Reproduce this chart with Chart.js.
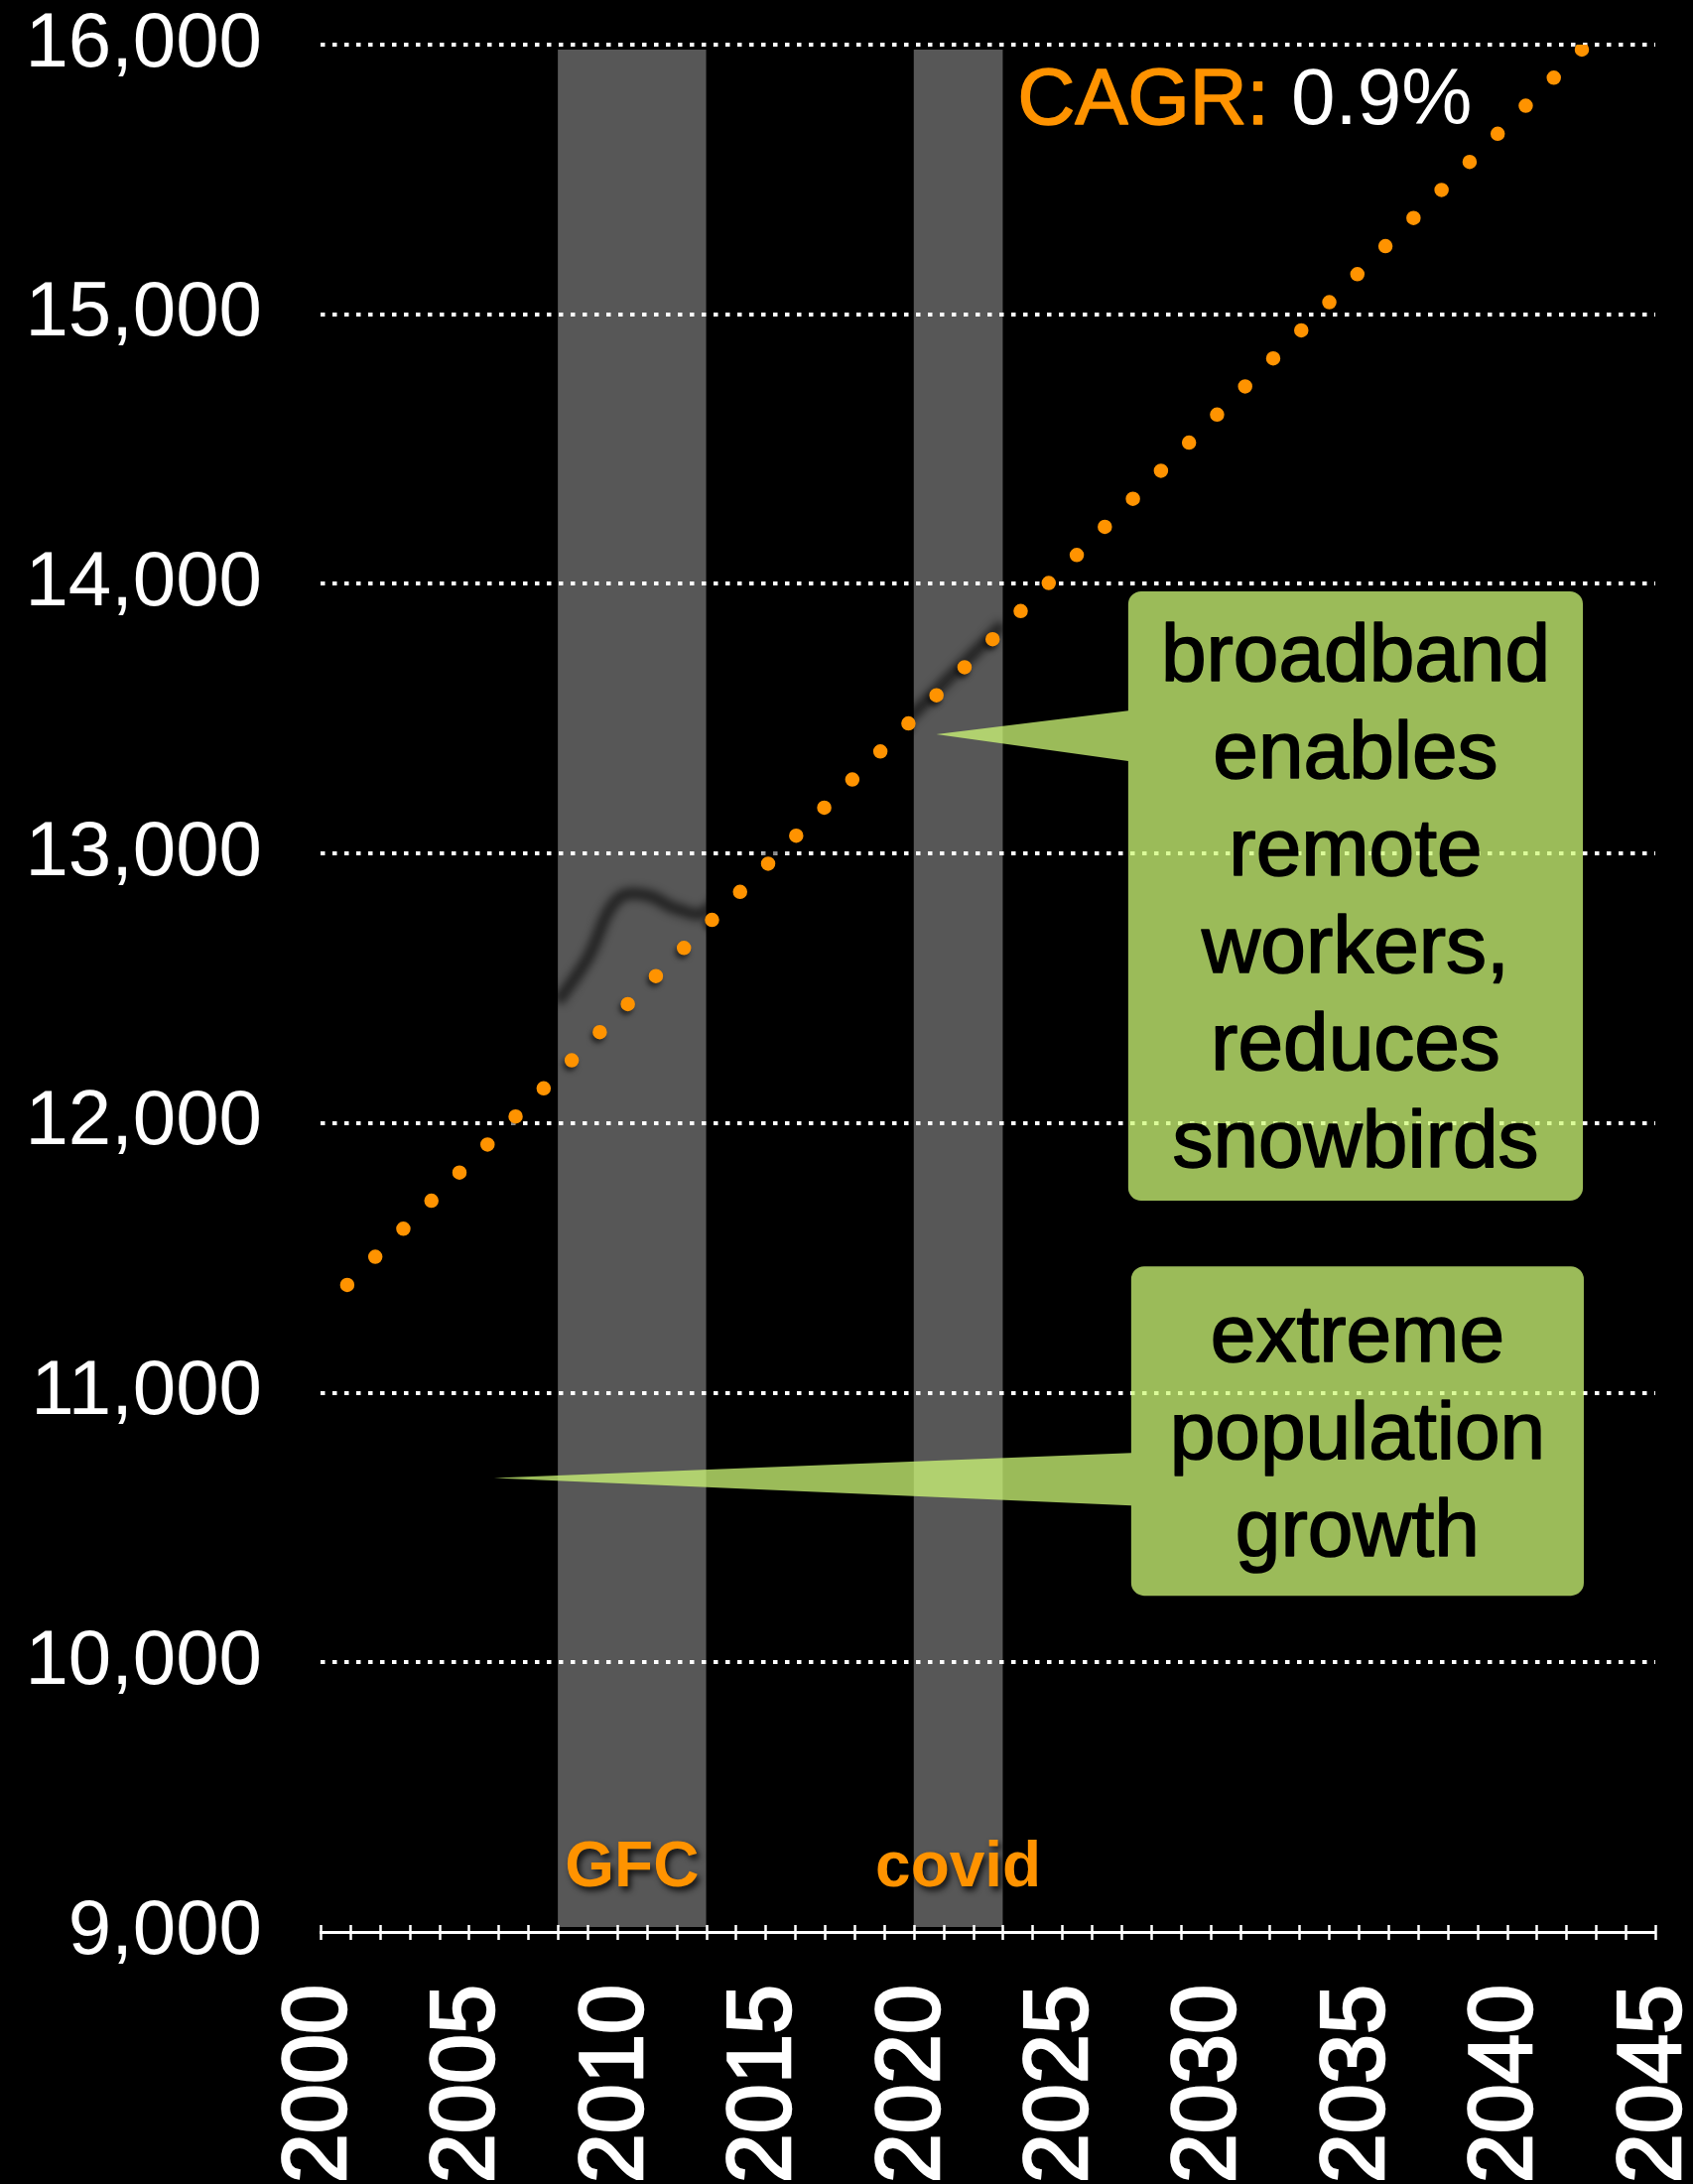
<!DOCTYPE html>
<html>
<head>
<meta charset="utf-8">
<title>Population trend</title>
<script src="https://cdn.jsdelivr.net/npm/chart.js@4.4.1/dist/chart.umd.min.js"></script>
<style>
    html, body { margin: 0; padding: 0; background: #000; }
    #wrap { width: 1706px; height: 2201px; }
</style>
</head>
<body>
<div id="wrap"><canvas id="chart" width="1706" height="2201"></canvas></div>
<script>
    "use strict";

    // Historical population (only shows where it crosses the shaded periods)
    var histYears = [2008, 2009, 2010, 2011, 2012, 2013, 2020, 2021, 2022, 2023];
    var histValues = [12450, 12610, 12830, 12845, 12795, 12787, 13520, 13630, 13740, 13850];

    // Dotted CAGR trend, start and end
    var trendYears = [2000.9, 2042.6];
    var trendValues = [11400, 15990];

    // Shaded periods
    var bandNames = ["GFC", "covid"];
    var bandStart = [2008, 2020];
    var bandEnd = [2013, 2023];

    // Axes
    var yTickValues = [9000, 10000, 11000, 12000, 13000, 14000, 15000, 16000];
    var xLabelYears = [2000, 2005, 2010, 2015, 2020, 2025, 2030, 2035, 2040, 2045];

    var cagrLabel = "CAGR:";
    var cagrValue = "0.9%";

    var note1Lines = ["broadband", "enables", "remote", "workers,", "reduces", "snowbirds"];
    var note2Lines = ["extreme", "population", "growth"];

    var FONT = '"Liberation Sans", Arial, Helvetica, sans-serif';
    var ORANGE = "#ff9300";

    // Shaded bands under the grid
    var bandsPlugin = {
        id: "bands",
        beforeDraw: function (chart) {
            var ctx = chart.ctx, xs = chart.scales.x, area = chart.chartArea;
            ctx.save();
            ctx.fillStyle = "#575757";
            for (var i = 0; i < bandStart.length; i++) {
                var x0 = xs.getPixelForValue(bandStart[i]);
                var x1 = xs.getPixelForValue(bandEnd[i]);
                ctx.fillRect(x0, area.top + 5, x1 - x0, area.bottom - area.top - 10);
            }
            ctx.restore();
        }
    };

    // Drop shadows / blur for datasets that ask for one
    var shadowPlugin = {
        id: "shadows",
        beforeDatasetDraw: function (chart, args) {
            var ds = chart.data.datasets[args.index];
            if (!ds.shadow && !ds.blur) return;
            var ctx = chart.ctx;
            ctx.save();
            if (ds.blur) ctx.filter = "blur(" + ds.blur + "px)";
            if (ds.shadow) {
                ctx.shadowColor = ds.shadow.color;
                ctx.shadowBlur = ds.shadow.blur;
                ctx.shadowOffsetX = ds.shadow.dx;
                ctx.shadowOffsetY = ds.shadow.dy;
            }
        },
        afterDatasetDraw: function (chart, args) {
            var ds = chart.data.datasets[args.index];
            if (ds.shadow || ds.blur) chart.ctx.restore();
        }
    };

    function boldText(ctx, text, x, y, w) {
        ctx.lineWidth = w;
        ctx.lineJoin = "round";
        ctx.strokeStyle = ctx.fillStyle;
        ctx.strokeText(text, x, y);
        ctx.fillText(text, x, y);
    }

    function drawNote(ctx, xs, ys, lines, box, tip, base) {
        var l = xs.getPixelForValue(box[0]), r = xs.getPixelForValue(box[2]);
        var t = ys.getPixelForValue(box[1]), b = ys.getPixelForValue(box[3]);
        var tx = xs.getPixelForValue(tip[0]), ty = ys.getPixelForValue(tip[1]);
        var b0 = ys.getPixelForValue(base[0]), b1 = ys.getPixelForValue(base[1]);
        var rad = 13;
        ctx.save();
        ctx.beginPath();
        ctx.moveTo(l + rad, t);
        ctx.lineTo(r - rad, t);
        ctx.arcTo(r, t, r, t + rad, rad);
        ctx.lineTo(r, b - rad);
        ctx.arcTo(r, b, r - rad, b, rad);
        ctx.lineTo(l + rad, b);
        ctx.arcTo(l, b, l, b - rad, rad);
        ctx.lineTo(l, b1);
        ctx.lineTo(tx, ty);
        ctx.lineTo(l, b0);
        ctx.lineTo(l, t + rad);
        ctx.arcTo(l, t, l + rad, t, rad);
        ctx.closePath();
        ctx.fillStyle = "rgba(207, 249, 119, 0.75)";
        ctx.fill();

        ctx.fillStyle = "#000";
        ctx.font = "82px " + FONT;
        ctx.textAlign = "center";
        ctx.textBaseline = "alphabetic";
        var cx = (l + r) / 2, cy = (t + b) / 2 + 28;
        for (var i = 0; i < lines.length; i++) {
            boldText(ctx, lines[i], cx, cy + (i - (lines.length - 1) / 2) * 98, 1.6);
        }
        ctx.restore();
    }

    // Ticks across the axis, labels and callouts on top
    var overlayPlugin = {
        id: "overlay",
        afterDatasetsDraw: function (chart) {
            var ctx = chart.ctx, xs = chart.scales.x, ys = chart.scales.y, area = chart.chartArea;

            // year ticks crossing the x axis
            ctx.save();
            ctx.strokeStyle = "#fff";
            ctx.lineWidth = 2.5;
            for (var yr = xs.min; yr <= xs.max; yr++) {
                var px = Math.round(xs.getPixelForValue(yr)) + 0.5;
                ctx.beginPath();
                ctx.moveTo(px, area.bottom - 7);
                ctx.lineTo(px, area.bottom + 8);
                ctx.stroke();
            }
            ctx.restore();

            // band names
            ctx.save();
            ctx.font = "bold 64px " + FONT;
            ctx.fillStyle = ORANGE;
            ctx.textAlign = "center";
            ctx.shadowColor = "rgba(0,0,0,0.8)";
            ctx.shadowBlur = 6;
            ctx.shadowOffsetX = 3;
            ctx.shadowOffsetY = 4;
            for (var i = 0; i < bandNames.length; i++) {
                var cx = xs.getPixelForValue((bandStart[i] + bandEnd[i]) / 2);
                ctx.fillText(bandNames[i], cx, area.bottom - 46);
            }
            ctx.restore();

            // CAGR
            ctx.save();
            ctx.font = "80px " + FONT;
            ctx.textAlign = "left";
            var cxl = xs.getPixelForValue(2023.5), cyl = ys.getPixelForValue(15705);
            ctx.fillStyle = ORANGE;
            boldText(ctx, cagrLabel, cxl, cyl, 1.6);
            var w = ctx.measureText(cagrLabel + " ").width;
            ctx.fillStyle = "#fff";
            ctx.fillText(cagrValue, cxl + w, cyl);
            ctx.restore();

            drawNote(ctx, xs, ys, note1Lines, [2027.23, 13972, 2042.56, 11712], [2020.76, 13442], [13530, 13343]);
            drawNote(ctx, xs, ys, note2Lines, [2027.33, 11469, 2042.59, 10247], [2005.85, 10684], [10777, 10582]);
        }
    };

    var ctx = document.getElementById("chart").getContext("2d");
    var chart = new Chart(ctx, {
        type: "line",
        data: {
            datasets: [{
                label: "CAGR trend",
                data: trendYears.map(function (x, i) { return { x: x, y: trendValues[i] }; }),
                borderColor: ORANGE,
                borderWidth: 14.5,
                borderDash: [0, 40],
                borderCapStyle: "round",
                pointRadius: 0,
                fill: false,
                shadow: { color: "rgba(0,0,0,0.55)", blur: 5, dx: -2, dy: 4 }
            }, {
                label: "Population",
                data: histYears.map(function (x, i) { return { x: x, y: histValues[i] }; }),
                borderColor: "rgba(0,0,0,0.6)",
                borderWidth: 12,
                tension: 0.4,
                spanGaps: true,
                pointRadius: 0,
                fill: false,
                blur: 4
            }]
        },
        options: {
            responsive: false,
            animation: false,
            layout: { padding: { top: 45, right: 38, left: 0, bottom: 0 } },
            plugins: { legend: { display: false }, tooltip: { enabled: false } },
            scales: {
                x: {
                    type: "linear",
                    min: 2000,
                    max: 2045,
                    afterBuildTicks: function (scale) {
                        var t = [];
                        for (var yr = 2000; yr <= 2045; yr++) t.push({ value: yr });
                        scale.ticks = t;
                    },
                    afterFit: function (scale) {
                        scale.height = 254;
                        scale.paddingLeft = 0;
                        scale.paddingRight = 0;
                    },
                    ticks: {
                        autoSkip: false,
                        minRotation: 90,
                        maxRotation: 90,
                        padding: 53,
                        color: "#fff",
                        textStrokeColor: "#fff",
                        textStrokeWidth: 2.5,
                        font: { family: FONT, size: 90 },
                        callback: function (v) { return xLabelYears.indexOf(v) >= 0 ? String(v) : ""; }
                    },
                    grid: { display: true, drawOnChartArea: false, drawTicks: false },
                    border: { color: "#fff", width: 3 }
                },
                y: {
                    min: 9000,
                    max: 16000,
                    afterBuildTicks: function (scale) {
                        scale.ticks = yTickValues.map(function (v) { return { value: v }; });
                    },
                    afterFit: function (scale) {
                        scale.width = 323;
                        scale.paddingTop = 0;
                        scale.paddingBottom = 0;
                    },
                    ticks: {
                        padding: 59,
                        color: "#fff",
                        font: { family: FONT, size: 78 },
                        callback: function (v) { return v.toLocaleString("en-US"); }
                    },
                    grid: {
                        drawTicks: false,
                        lineWidth: 4,
                        color: function (c) { return c.tick && c.tick.value === 9000 ? "rgba(0,0,0,0)" : "#fff"; }
                    },
                    border: { display: false, dash: [4.5, 7.5] }
                }
            }
        },
        plugins: [bandsPlugin, shadowPlugin, overlayPlugin]
    });
</script>
</body>
</html>
